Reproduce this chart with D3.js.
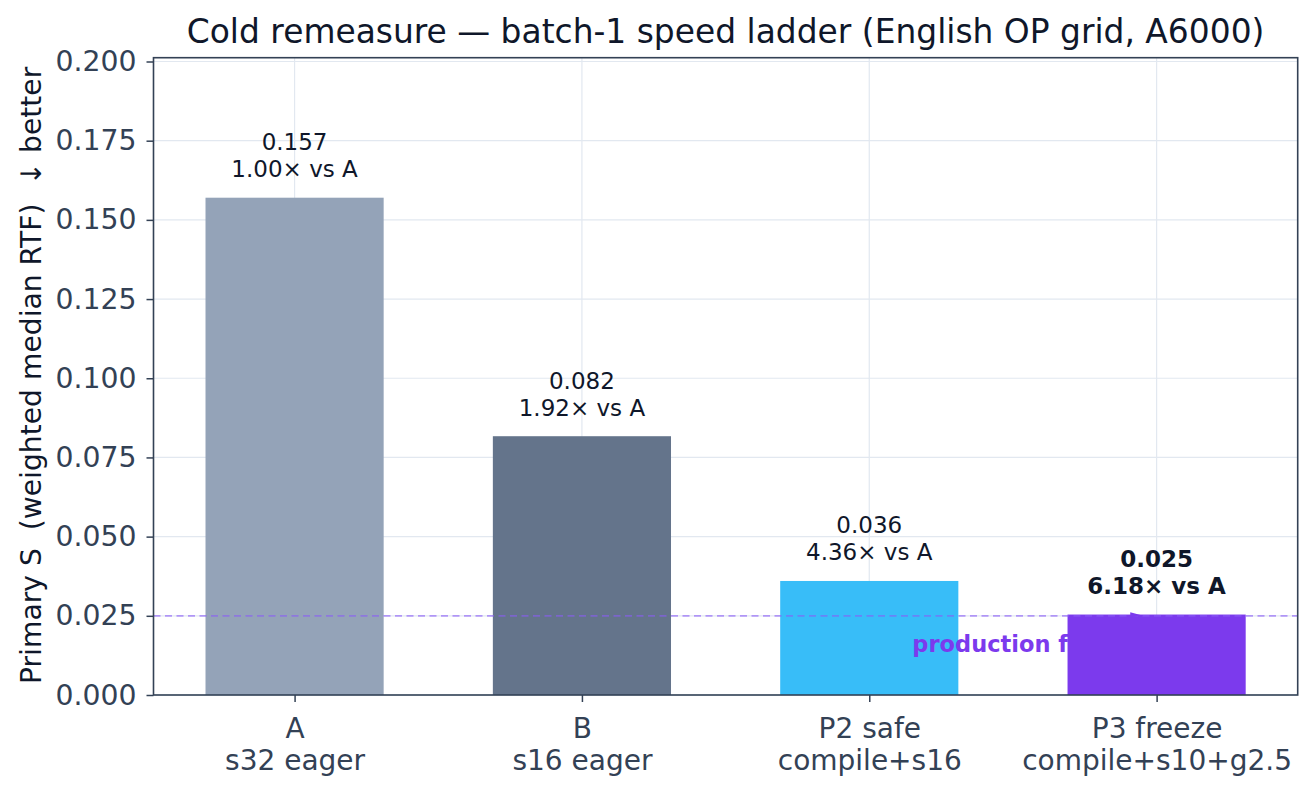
<!DOCTYPE html>
<html>
<head>
<meta charset="utf-8">
<script src="https://cdn.jsdelivr.net/npm/d3@7"></script>
<style>
  html, body { margin: 0; padding: 0; background: #fff; }
  svg { display: block; font-family: "DejaVu Sans", sans-serif; }
  text { white-space: pre; }
</style>
</head>
<body>
<svg id="chart" width="1316" height="797"></svg>
<script>
// ---- data ----
const catTop = ["A", "B", "P2 safe", "P3 freeze"];
const catBottom = ["s32 eager", "s16 eager", "compile+s16", "compile+s10+g2.5"];
const values = [0.157, 0.0817, 0.036, 0.0254];
const valueLabels = ["0.157", "0.082", "0.036", "0.025"];
const speedupLabels = ["1.00× vs A", "1.92× vs A", "4.36× vs A", "6.18× vs A"];
const barColors = ["#94a3b8", "#64748b", "#38bdf8", "#7c3aed"];
const yTicks = [0, 0.025, 0.05, 0.075, 0.1, 0.125, 0.15, 0.175, 0.2];
const floorValue = 0.025;
const floorLabel = "production floor";
const titleText = "Cold remeasure — batch-1 speed ladder (English OP grid, A6000)";
const yLabelText = "Primary S  (weighted median RTF)  ↓ better";

// ---- layout ----
const L = 153.5, R = 1297.7, T = 57.7, B = 695;
const barW = 0.62;
const svg = d3.select("#chart");

const x = d3.scaleLinear().domain([-0.5 * barW - 0.05 * (3 + barW), 3 + 0.5 * barW + 0.05 * (3 + barW)]).range([L, R]);
const y = d3.scaleLinear().domain([0, 0.2012]).range([B, T]);
const idx = d3.range(values.length);

// grid
const grid = svg.append("g");
grid.selectAll("line.gy").data(yTicks).join("line")
  .attr("x1", L).attr("x2", R)
  .attr("y1", d => y(d)).attr("y2", d => y(d))
  .attr("stroke", "#e2e8f0").attr("stroke-width", 1.2);
grid.selectAll("line.gx").data(idx).join("line")
  .attr("x1", d => x(d)).attr("x2", d => x(d))
  .attr("y1", T).attr("y2", B)
  .attr("stroke", "#e2e8f0").attr("stroke-width", 1.2);

// bars (first three), then floor label, then last bar (label sits between)
const barG = svg.append("g");
function drawBars(list) {
  barG.selectAll(null).data(list).join("rect")
    .attr("x", d => x(d - barW / 2))
    .attr("width", d => x(d + barW / 2) - x(d - barW / 2))
    .attr("y", d => y(values[d]))
    .attr("height", d => y(0) - y(values[d]))
    .attr("fill", d => barColors[d]);
}
drawBars(idx.slice(0, 3));
barG.append("text")
  .attr("x", x(2.15)).attr("y", y(floorValue) + 36)
  .attr("font-size", 22.5).attr("font-weight", "bold")
  .attr("fill", "#7c3aed")
  .text(floorLabel);
drawBars(idx.slice(3));

// floor dashed line
svg.append("line")
  .attr("x1", L).attr("x2", R)
  .attr("y1", y(floorValue)).attr("y2", y(floorValue))
  .attr("stroke", "#8b5cf6").attr("stroke-opacity", 0.6)
  .attr("stroke-width", 1.8).attr("stroke-dasharray", "7,4.5");

// arrowhead of annotation
const ax = x(2.95), ay = y(floorValue) - 1;
svg.append("path")
  .attr("d", `M${ax - 12},${ay - 2.5} L${ax + 1},${ay + 1} L${ax - 12},${ay + 2.5} Z`)
  .attr("fill", "#7c3aed");

// axes
const yAxis = d3.axisLeft(y).tickValues(yTicks).tickFormat(d3.format(".3f")).tickSize(7).tickPadding(10);
const yg = svg.append("g").attr("transform", `translate(${L},0)`).call(yAxis);
yg.select(".domain").remove();
yg.selectAll(".tick line").attr("stroke", "#334155").attr("stroke-width", 1.5);
yg.selectAll(".tick text").attr("fill", "#334155").attr("font-size", 28.3).attr("font-family", "DejaVu Sans");

const xAxis = d3.axisBottom(x).tickValues(idx).tickFormat(() => "").tickSize(7);
const xg = svg.append("g").attr("transform", `translate(0,${B})`).call(xAxis);
xg.select(".domain").remove();
xg.selectAll(".tick line").attr("stroke", "#334155").attr("stroke-width", 1.5);
xg.selectAll(".tick text").remove();
xg.selectAll(".tick").append("text")
  .attr("text-anchor", "middle").attr("fill", "#334155")
  .attr("font-size", 28).attr("font-family", "DejaVu Sans")
  .each(function(d) {
    const t = d3.select(this);
    t.append("tspan").attr("x", 0).attr("y", 43).text(catTop[d]);
    t.append("tspan").attr("x", 0).attr("y", 75).text(catBottom[d]);
  });

// spines
svg.append("rect").attr("x", L).attr("y", T).attr("width", R - L).attr("height", B - T)
  .attr("fill", "none").attr("stroke", "#334155").attr("stroke-width", 1.6);

// value labels
svg.append("g").selectAll("text").data(idx).join("text")
  .attr("text-anchor", "middle").attr("fill", "#0f172a")
  .attr("font-size", 23)
  .attr("font-weight", d => d === 3 ? "bold" : "normal")
  .each(function(d) {
    const t = d3.select(this);
    const base = y(values[d]) - 47.5;
    t.append("tspan").attr("x", x(d)).attr("y", base).text(valueLabels[d]);
    t.append("tspan").attr("x", x(d)).attr("y", base + 27).text(speedupLabels[d]);
  });

// title
svg.append("text")
  .attr("x", (L + R) / 2).attr("y", 43)
  .attr("text-anchor", "middle").attr("fill", "#0f172a")
  .attr("font-size", 32.9)
  .text(titleText);

// y label
svg.append("text")
  .attr("transform", `translate(41,${(T + B) / 2 - 1}) rotate(-90)`)
  .attr("text-anchor", "middle").attr("fill", "#0f172a")
  .attr("font-size", 28.2)
  .text(yLabelText);
</script>
</body>
</html>
